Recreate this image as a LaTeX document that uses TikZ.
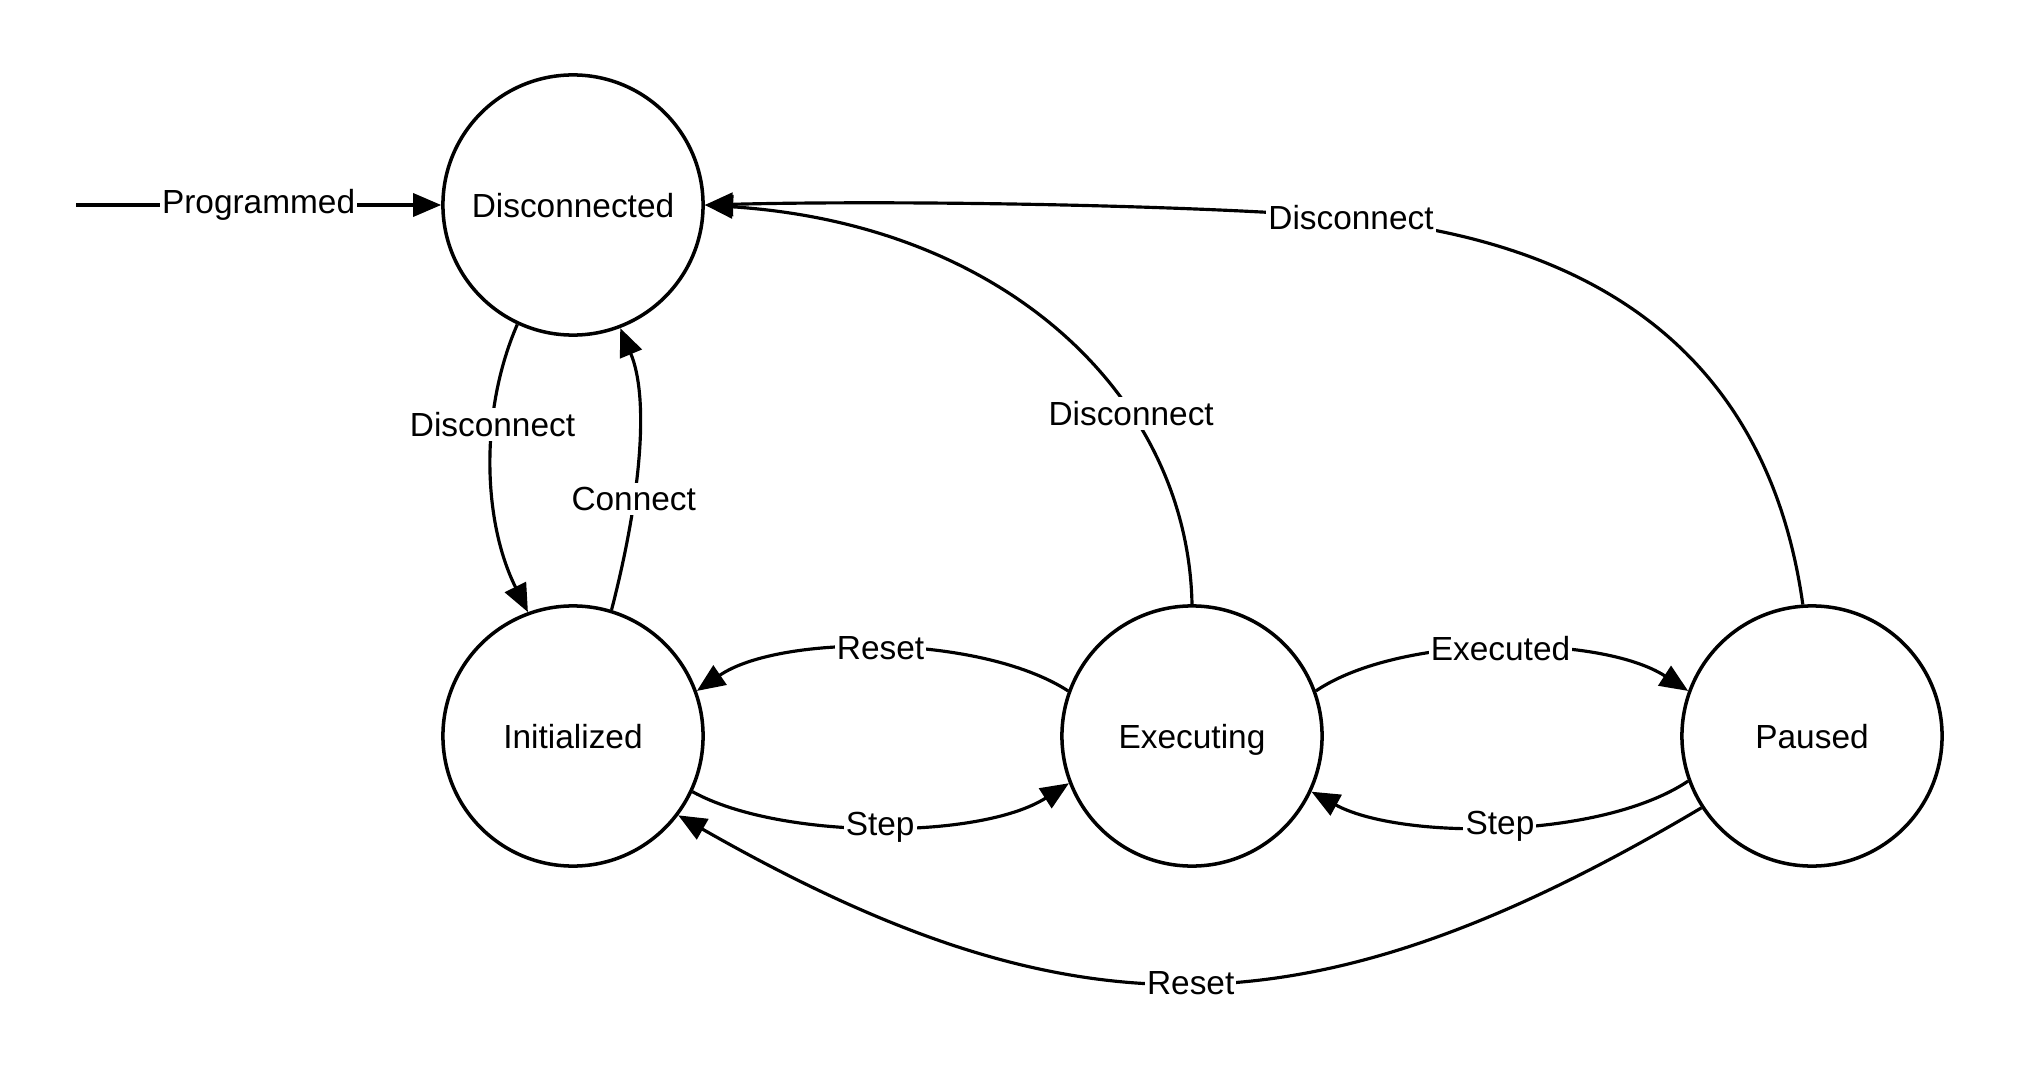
\documentclass[tikz,border=0pt]{standalone}
\usepackage{fontspec}
\setmainfont{Liberation Sans}
\usetikzlibrary{arrows.meta}
\tikzset{
  state/.style={circle, draw=black, line width=1.0pt, minimum size=2.6cm, inner sep=0pt, text depth=0pt, font=\fontsize{9.5pt}{11pt}\selectfont},
  trans/.style={line width=0.9pt, -{Triangle[length=8pt,width=6.6pt]}},
  lbl/.style={fill=white, inner xsep=0.6pt, inner ysep=1.2pt, font=\fontsize{9.5pt}{11pt}\selectfont}
}
\begin{document}
\begin{tikzpicture}[x=0.01cm,y=-0.01cm]
\useasboundingbox (0,0) rectangle (2018,1082);
\node[state] (D) at (573,205) {Disconnected};
\node[state] (I) at (573,736) {Initialized};
\node[state] (E) at (1192,736) {Executing};
\node[state] (P) at (1812,736) {Paused};
\coordinate (start) at (76,205);

\draw[trans] (start) -- node[lbl,pos=0.5] {Programmed} (D.west);
\draw[trans] (D.245) .. controls (480,410) and (482,520) .. node[lbl,pos=0.36] {Disconnect} (I.110);
\draw[trans] (I.73) .. controls (640,500) and (650,400) .. node[lbl,pos=0.35] {Connect} (D.291);
\draw[trans] (E.90) .. controls (1188,400) and (1010,225) .. node[lbl,pos=0.335] {Disconnect} (D.0);
\draw[trans] (P.94) .. controls (1760,300) and (1520,235) .. (1351,218) node[lbl] {Disconnect} .. controls (1200,205) and (900,200) .. (D.0);
\draw[trans] (E.160) .. controls (980,634) and (780,634) .. node[lbl,pos=0.5] {Reset} (I.20);
\draw[trans] (I.-25) .. controls (780,840) and (980,840) .. node[lbl,pos=0.5] {Step} (E.201);
\draw[trans] (E.20) .. controls (1400,634) and (1600,634) .. node[lbl,pos=0.5] {Executed} (P.160);
\draw[trans] (P.200) .. controls (1600,840) and (1400,840) .. node[lbl,pos=0.5] {Step} (E.-25);
\draw[trans] (P.213) .. controls (1310,1040) and (1072,1040) .. node[lbl,pos=0.5] {Reset} (I.-37);
\end{tikzpicture}
\end{document}
